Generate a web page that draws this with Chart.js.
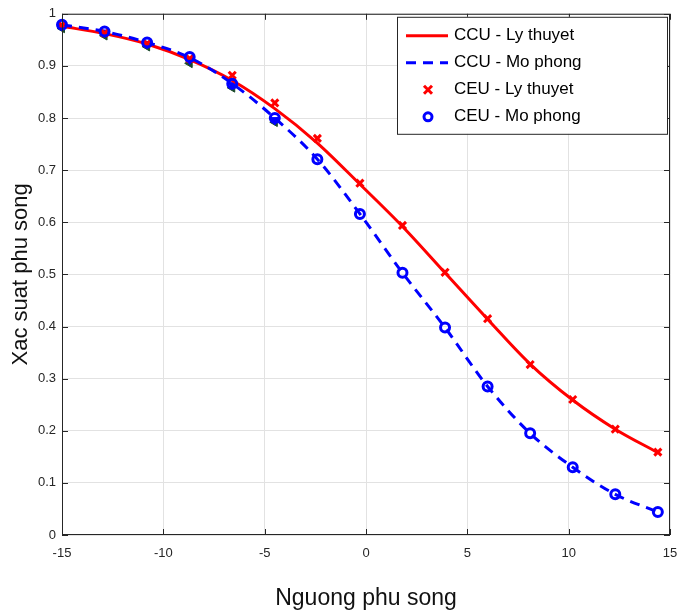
<!DOCTYPE html>
<html>
<head>
<meta charset="utf-8">
<script src="https://cdn.jsdelivr.net/npm/chart.js@4.4.1/dist/chart.umd.min.js"></script>
<style>
  html, body { margin: 0; padding: 0; background: #fff; }
  #wrap { width: 678px; height: 616px; }
</style>
</head>
<body>
<div id="wrap"><canvas id="chart" width="678" height="616"></canvas></div>
<script>
// x positions (Nguong phu song)
const xVals = [-15, -12.9, -10.8, -8.7, -6.6, -4.5, -2.4, -0.3, 1.8, 3.9, 6.0, 8.1, 10.2, 12.3, 14.4];

// CCU - Ly thuyet (red solid line)
const ccuTheory = [0.976, 0.962, 0.942, 0.912, 0.872, 0.818, 0.752, 0.673, 0.592, 0.503, 0.414, 0.328, 0.259, 0.203, 0.158];
// CCU - Mo phong (blue dashed line)
const ccuSim = [0.979, 0.966, 0.945, 0.916, 0.866, 0.800, 0.721, 0.616, 0.503, 0.398, 0.285, 0.195, 0.130, 0.078, 0.044];
// CEU - Ly thuyet (red x markers)
const ceuTheory = [0.978, 0.963, 0.943, 0.914, 0.882, 0.829, 0.761, 0.675, 0.594, 0.504, 0.415, 0.327, 0.260, 0.203, 0.159];
// CEU - Mo phong (blue o markers)
const ceuSim = [0.979, 0.966, 0.945, 0.917, 0.866, 0.800, 0.721, 0.616, 0.503, 0.398, 0.285, 0.195, 0.130, 0.078, 0.044];

// extra unlabeled triangle markers at the low-threshold end
const triX = [-15, -12.9, -10.8, -8.7, -6.6, -4.5];
const triBlue = [0.977, 0.964, 0.942, 0.912, 0.864, 0.796];
const triGreen = [0.972, 0.958, 0.937, 0.905, 0.858, 0.792];

const xTicks = [-15, -10, -5, 0, 5, 10, 15];
const yTicks = [0, 0.1, 0.2, 0.3, 0.4, 0.5, 0.6, 0.7, 0.8, 0.9, 1];

const legendLabels = ['CCU - Ly thuyet', 'CCU - Mo phong', 'CEU - Ly thuyet', 'CEU - Mo phong'];

const axisColor = '#262626';
const fontFamily = '"Liberation Sans", Arial, Helvetica, sans-serif';

function pts(xs, ys) {
    return xs.map((x, i) => ({ x: x, y: ys[i] }));
}

// MATLAB style box with inward ticks on all four sides
const boxPlugin = {
    id: 'boxPlugin',
    afterDatasetsDraw(chart) {
        const { ctx, chartArea: a, scales } = chart;
        const len = 6;
        ctx.save();
        ctx.strokeStyle = axisColor;
        ctx.lineWidth = 1;
        ctx.strokeRect(a.left + 0.5, a.top + 0.5, a.right - a.left - 1, a.bottom - a.top - 1);
        ctx.beginPath();
        xTicks.forEach(v => {
            const px = Math.round(scales.x.getPixelForValue(v)) + 0.5;
            ctx.moveTo(px, a.bottom); ctx.lineTo(px, a.bottom - len);
            ctx.moveTo(px, a.top); ctx.lineTo(px, a.top + len);
        });
        yTicks.forEach(v => {
            const py = Math.round(scales.y.getPixelForValue(v)) + 0.5;
            ctx.moveTo(a.left, py); ctx.lineTo(a.left + len, py);
            ctx.moveTo(a.right, py); ctx.lineTo(a.right - len, py);
        });
        ctx.stroke();
        ctx.restore();
    }
};

// legend box in the upper right corner
const legendPlugin = {
    id: 'legendBox',
    afterDraw(chart) {
        const { ctx, chartArea: a } = chart;
        const ds = chart.data.datasets;
        const boxW = 270, boxH = 117;
        const bx = a.right - 3 - boxW, by = a.top + 3;
        ctx.save();
        ctx.fillStyle = '#fff';
        ctx.fillRect(bx, by, boxW, boxH);
        ctx.strokeStyle = axisColor;
        ctx.lineWidth = 1;
        ctx.strokeRect(bx + 0.5, by + 0.5, boxW, boxH);
        ctx.font = '17px ' + fontFamily;
        ctx.textBaseline = 'middle';
        legendLabels.forEach((lab, i) => {
            const d = ds[i];
            const cy = by + 19 + i * 27;
            const mx = bx + 31;
            if (d.showLine) {
                ctx.beginPath();
                ctx.strokeStyle = d.borderColor;
                ctx.lineWidth = d.borderWidth;
                ctx.setLineDash(d.borderDash || []);
                ctx.moveTo(bx + 9, cy);
                ctx.lineTo(bx + 51, cy);
                ctx.stroke();
                ctx.setLineDash([]);
            } else {
                ctx.strokeStyle = d.pointBorderColor;
                ctx.lineWidth = d.pointBorderWidth;
                ctx.beginPath();
                if (d.pointStyle === 'circle') {
                    ctx.arc(mx, cy, 4, 0, Math.PI * 2);
                } else {
                    ctx.moveTo(mx - 4, cy - 4); ctx.lineTo(mx + 4, cy + 4);
                    ctx.moveTo(mx + 4, cy - 4); ctx.lineTo(mx - 4, cy + 4);
                }
                ctx.stroke();
            }
            ctx.fillStyle = '#000';
            ctx.fillText(lab, bx + 57, cy);
        });
        ctx.restore();
    }
};

const ctx = document.getElementById('chart').getContext('2d');
const chart = new Chart(ctx, {
    type: 'scatter',
    data: {
        datasets: [
            {
                label: legendLabels[0],
                data: pts(xVals, ccuTheory),
                showLine: true,
                borderColor: '#ff0000',
                borderWidth: 3,
                pointRadius: 0,
                cubicInterpolationMode: 'monotone',
                clip: false,
                order: 4
            },
            {
                label: legendLabels[1],
                data: pts(xVals, ccuSim),
                showLine: true,
                borderColor: '#0000ff',
                borderWidth: 3,
                borderDash: [10, 7],
                pointRadius: 0,
                cubicInterpolationMode: 'monotone',
                clip: false,
                order: 3
            },
            {
                label: legendLabels[2],
                data: pts(xVals, ceuTheory),
                showLine: false,
                pointStyle: 'crossRot',
                pointRadius: 5,
                pointBorderColor: '#ff0000',
                pointBorderWidth: 3,
                clip: false,
                order: 2
            },
            {
                label: legendLabels[3],
                data: pts(xVals, ceuSim),
                showLine: false,
                pointStyle: 'circle',
                pointRadius: 4.5,
                pointBorderColor: '#0000ff',
                pointBackgroundColor: 'rgba(255,255,255,0)',
                pointBorderWidth: 3,
                clip: false,
                order: 1
            },
            {
                label: 'tri-green',
                data: pts(triX, triGreen),
                showLine: false,
                pointStyle: 'triangle',
                rotation: 270,
                pointRadius: 5,
                pointBorderColor: '#1a4a2a',
                pointBackgroundColor: '#1a4a2a',
                pointBorderWidth: 1,
                clip: false,
                order: 6
            },
            {
                label: 'tri-blue',
                data: pts(triX, triBlue),
                showLine: false,
                pointStyle: 'triangle',
                rotation: 180,
                pointRadius: 5,
                pointBorderColor: '#0000ff',
                pointBackgroundColor: '#0000ff',
                pointBorderWidth: 1,
                clip: false,
                order: 5
            }
        ]
    },
    options: {
        responsive: false,
        animation: false,
        layout: { padding: { top: 12, right: 6, bottom: 0, left: 0 } },
        plugins: {
            legend: { display: false },
            tooltip: { enabled: false }
        },
        scales: {
            x: {
                type: 'linear',
                min: -15,
                max: 15,
                afterBuildTicks: scale => { scale.ticks = xTicks.map(v => ({ value: v })); },
                afterFit: scale => {
                    scale.height = 81;
                    scale.paddingLeft = 0;
                    scale.paddingRight = 0;
                },
                ticks: {
                    color: axisColor,
                    font: { family: fontFamily, size: 13 },
                    padding: 11,
                    maxRotation: 0,
                    callback: v => String(v)
                },
                grid: { color: '#e2e2e2', drawTicks: false },
                border: { display: false },
                title: {
                    display: true,
                    text: 'Nguong phu song',
                    color: '#111',
                    font: { family: fontFamily, size: 23 },
                    padding: { top: 0, bottom: 4 }
                }
            },
            y: {
                type: 'linear',
                min: 0,
                max: 1,
                afterBuildTicks: scale => { scale.ticks = yTicks.map(v => ({ value: v })); },
                afterFit: scale => { scale.width = 62; },
                ticks: {
                    color: axisColor,
                    font: { family: fontFamily, size: 13 },
                    padding: 6,
                    callback: v => String(+v.toFixed(1))
                },
                grid: { color: '#e2e2e2', drawTicks: false },
                border: { display: false },
                title: {
                    display: true,
                    text: 'Xac suat phu song',
                    color: '#111',
                    font: { family: fontFamily, size: 22 },
                    padding: { top: 8, bottom: 0 }
                }
            }
        }
    },
    plugins: [boxPlugin, legendPlugin]
});
</script>
</body>
</html>
